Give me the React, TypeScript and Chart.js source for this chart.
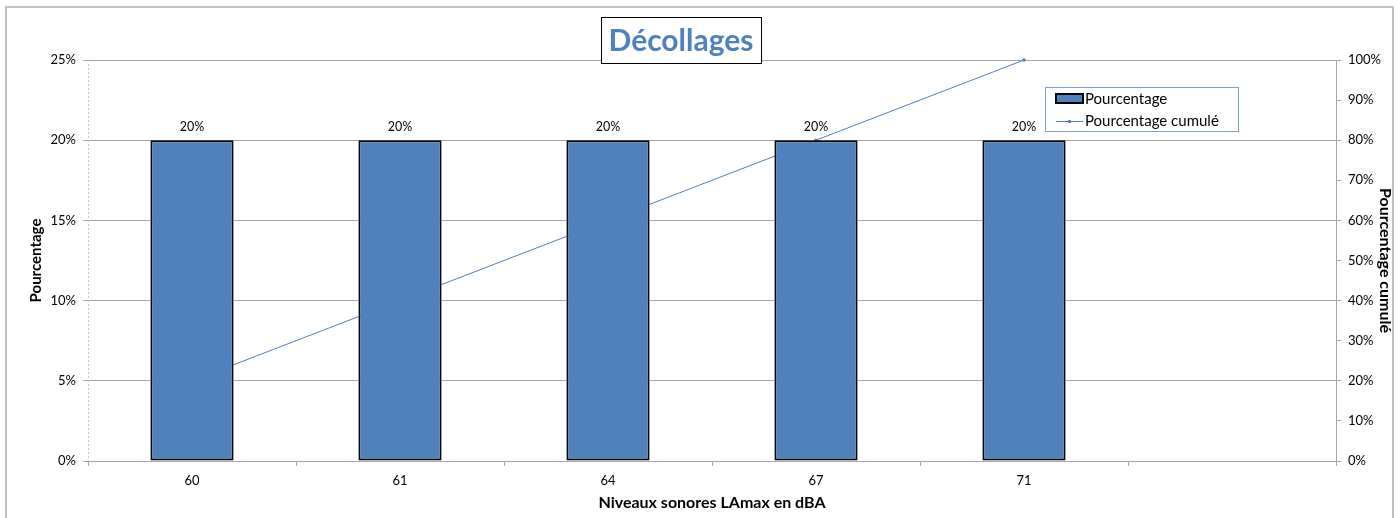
import React, { useEffect, useRef } from "react";
import { Chart, registerables } from "chart.js";

Chart.register(...registerables);

const categories = ["60", "61", "64", "67", "71", ""];
const pourcentage = [0.2, 0.2, 0.2, 0.2, 0.2, null];
const pourcentageCumule = [0.2, 0.4, 0.6, 0.8, 1.0, null];
const barLabels = ["20%", "20%", "20%", "20%", "20%", ""];

const BLUE = "#4F81BD";
const FONT = "Lato, 'Open Sans', sans-serif";

const decorPlugin = {
  id: "decor",
  beforeDraw(chart: any) {
    const ctx = chart.ctx;
    ctx.save();
    ctx.fillStyle = "#fff";
    ctx.fillRect(0, 0, chart.width, chart.height);
    ctx.strokeStyle = "#c0c0c0";
    ctx.lineWidth = 2;
    ctx.strokeRect(6, 7, 1387, 520);
    ctx.restore();
  },
  beforeDatasetsDraw(chart: any) {
    const ctx = chart.ctx;
    const area = chart.chartArea;
    ctx.save();
    ctx.strokeStyle = "#c8c8c8";
    ctx.lineWidth = 1;
    ctx.setLineDash([2, 2]);
    ctx.beginPath();
    ctx.moveTo(Math.round(area.left) + 0.5, area.top);
    ctx.lineTo(Math.round(area.left) + 0.5, area.bottom);
    ctx.stroke();
    ctx.restore();
  },
  afterDraw(chart: any) {
    const ctx = chart.ctx;
    const area = chart.chartArea;
    ctx.save();
    // title box
    ctx.fillStyle = "#fff";
    ctx.fillRect(601, 17, 160, 46);
    ctx.strokeStyle = "#000";
    ctx.lineWidth = 1;
    ctx.strokeRect(601.5, 17.5, 160, 46);
    ctx.fillStyle = BLUE;
    ctx.font = `bold 30px ${FONT}`;
    ctx.textAlign = "center";
    ctx.textBaseline = "middle";
    ctx.fillText("Décollages", 681, 41);

    // axis titles
    ctx.fillStyle = "#000";
    ctx.font = `bold 16px ${FONT}`;
    ctx.fillText("Niveaux sonores LAmax en dBA", (area.left + area.right) / 2, 503);
    ctx.save();
    ctx.translate(1385, (area.top + area.bottom) / 2);
    ctx.rotate(Math.PI / 2);
    ctx.fillText("Pourcentage cumulé", 0, 0);
    ctx.restore();
    ctx.font = `bold 15px ${FONT}`;
    ctx.save();
    ctx.translate(36, (area.top + area.bottom) / 2);
    ctx.rotate(-Math.PI / 2);
    ctx.fillText("Pourcentage", 0, 0);
    ctx.restore();

    // bar data labels
    const meta = chart.getDatasetMeta(0);
    ctx.font = `12.5px ${FONT}`;
    ctx.textBaseline = "bottom";
    meta.data.forEach((el: any, i: number) => {
      if (pourcentage[i] == null) return;
      ctx.fillText(barLabels[i], el.x, el.y - 7);
    });

    // legend
    const lx = 1045, ly = 87, lw = 193, lh = 44;
    ctx.fillStyle = "#fff";
    ctx.fillRect(lx, ly, lw, lh);
    ctx.strokeStyle = "#7F9FD3";
    ctx.lineWidth = 1;
    ctx.strokeRect(lx + 0.5, ly + 0.5, lw, lh);
    ctx.fillStyle = BLUE;
    ctx.fillRect(1056, 94, 27, 9);
    ctx.strokeStyle = "#000";
    ctx.lineWidth = 2;
    ctx.strokeRect(1056, 94, 27, 9);
    ctx.strokeStyle = BLUE;
    ctx.lineWidth = 1;
    ctx.beginPath();
    ctx.moveTo(1056, 121.5);
    ctx.lineTo(1083, 121.5);
    ctx.stroke();
    ctx.fillStyle = BLUE;
    ctx.beginPath();
    ctx.arc(1069.5, 121.5, 1.8, 0, Math.PI * 2);
    ctx.fill();
    ctx.fillStyle = "#000";
    ctx.font = `15px ${FONT}`;
    ctx.textAlign = "left";
    ctx.textBaseline = "middle";
    ctx.fillText("Pourcentage", 1085, 99);
    ctx.fillText("Pourcentage cumulé", 1085, 121);
    ctx.restore();
  },
};

export default function App() {
  const ref = useRef<HTMLCanvasElement | null>(null);
  useEffect(() => {
    document.body.style.margin = "0";
    const chart = new Chart(ref.current as HTMLCanvasElement, {
      type: "bar",
      data: {
        labels: categories,
        datasets: [
          {
            type: "bar",
            label: "Pourcentage",
            data: pourcentage as any,
            backgroundColor: BLUE,
            borderColor: "#000",
            borderWidth: 2,
            borderSkipped: false,
            barPercentage: 0.4,
            categoryPercentage: 1,
            yAxisID: "y",
            order: 1,
          },
          {
            type: "line",
            label: "Pourcentage cumulé",
            data: pourcentageCumule as any,
            borderColor: BLUE,
            backgroundColor: BLUE,
            borderWidth: 1,
            pointRadius: 1.8,
            pointBorderWidth: 0,
            clip: false as any,
            yAxisID: "y1",
            order: 2,
          },
        ],
      },
      options: {
        responsive: false,
        animation: false,
        layout: { padding: { top: 60, left: 0, right: 0, bottom: 0 } },
        plugins: { legend: { display: false }, tooltip: { enabled: false }, title: { display: false } },
        scales: {
          x: {
            offset: true,
            grid: { drawOnChartArea: false, drawTicks: true, tickLength: 5, offset: true, color: "#a6a6a6" },
            border: { color: "#a6a6a6" },
            ticks: { color: "#000", font: { family: FONT, size: 13 }, padding: 7, maxRotation: 0 },
            afterFit: (s: any) => { s.height = 57; },
          },
          y: {
            position: "left",
            min: 0,
            max: 0.25,
            ticks: {
              stepSize: 0.05,
              color: "#000",
              font: { family: FONT, size: 13 },
              padding: 7,
              callback: (v: any) => Math.round(Number(v) * 100) + "%",
            },
            grid: { color: "#a6a6a6", tickLength: 5 },
            border: { display: false },
            afterFit: (s: any) => { s.width = 88; },
          },
          y1: {
            position: "right",
            min: 0,
            max: 1,
            ticks: {
              stepSize: 0.1,
              color: "#000",
              font: { family: FONT, size: 13 },
              padding: 7,
              callback: (v: any) => Math.round(Number(v) * 100) + "%",
            },
            grid: { drawOnChartArea: false, color: "#a6a6a6", tickLength: 5 },
            border: { color: "#a6a6a6" },
            afterFit: (s: any) => { s.width = 64; },
          },
        },
      },
      plugins: [decorPlugin],
    });
    return () => chart.destroy();
  }, []);
  return <canvas ref={ref} width={1400} height={518} style={{ display: "block" }} />;
}
